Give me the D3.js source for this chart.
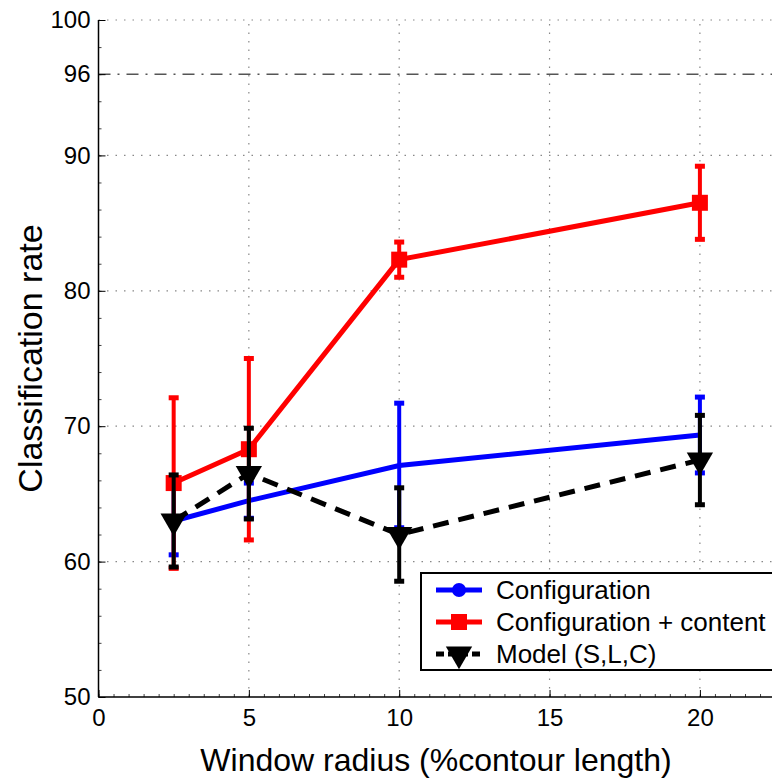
<!DOCTYPE html>
<html>
<head>
<meta charset="utf-8">
<script src="https://cdn.jsdelivr.net/npm/d3@7"></script>
<style>
  body { margin: 0; background: #fff; }
  text { font-family: "Liberation Sans", Arial, sans-serif; }
</style>
</head>
<body>
<svg id="chart"></svg>
<script>
// data
const radius = [2.5, 5, 10, 20];
const configRate = [63.0, 64.5, 67.1, 69.35];
const configErr = [2.5, 1.3, 4.6, 2.8];
const contentRate = [65.8, 68.3, 82.3, 86.5];
const contentErr = [6.3, 6.7, 1.3, 2.7];
const modelRate = [63.0, 66.5, 62.0, 67.5];
const modelErr = [3.4, 3.35, 3.45, 3.3];
const yTicks = [50, 60, 70, 80, 90, 96, 100];
const xTicks = [0, 5, 10, 15, 20];
const chanceLine = 96;
const legendLabels = ["Configuration", "Configuration + content", "Model (S,L,C)"];

// constants
const width = 772;
const height = 779;
const margin = { left: 98.5, top: 20, bottom: 82 };

const svg = d3.select('svg#chart').attr('width', width).attr('height', height);

const x = d3.scaleLinear().domain([0, 22.5]).range([margin.left, margin.left + 22.5 * 30.07]);
const y = d3.scaleLinear().domain([50, 100]).range([height - margin.bottom, margin.top]);

const x0 = x(0), y0 = y(50);

// grid lines (dotted)
const grid = svg.append("g").attr("stroke", "#888").attr("stroke-width", 1.2).attr("stroke-dasharray", "1.5,7");
grid.selectAll(".gy")
  .data(yTicks.filter(d => d !== 50 && d !== chanceLine))
  .join("line")
    .attr("x1", x0).attr("x2", width)
    .attr("y1", d => y(d)).attr("y2", d => y(d));
grid.selectAll(".gx")
  .data(xTicks.filter(d => d !== 0))
  .join("line")
    .attr("x1", d => x(d)).attr("x2", d => x(d))
    .attr("y1", y0).attr("y2", y(100));

// 96 reference line (dash-dot)
svg.append("line")
  .attr("x1", x0).attr("x2", width)
  .attr("y1", y(chanceLine)).attr("y2", y(chanceLine))
  .attr("stroke", "#555").attr("stroke-width", 1.5)
  .attr("stroke-dasharray", "12,7,2,7");

// minor ticks
svg.append("g")
  .attr("transform", `translate(0,${y0})`)
  .call(d3.axisBottom(x).tickValues(d3.range(0, 22.6, 0.5)).tickSize(-3).tickFormat(""))
  .call(g => g.select(".domain").remove())
  .call(g => g.selectAll("line").attr("stroke", "#444"));
svg.append("g")
  .attr("transform", `translate(${x0},0)`)
  .call(d3.axisLeft(y).tickValues(d3.range(50, 100.1, 2)).tickSize(-3).tickFormat(""))
  .call(g => g.select(".domain").remove())
  .call(g => g.selectAll("line").attr("stroke", "#444"));

// major ticks + labels
const xAxis = svg.append("g")
  .attr("transform", `translate(0,${y0})`)
  .call(d3.axisBottom(x).tickValues(xTicks).tickSize(-7).tickPadding(12).tickFormat(d3.format("d")));
xAxis.select(".domain").remove();
xAxis.selectAll("text").attr("font-size", 24).attr("fill", "#000")
  .attr("font-family", "Liberation Sans, Arial, sans-serif");

const yAxis = svg.append("g")
  .attr("transform", `translate(${x0},0)`)
  .call(d3.axisLeft(y).tickValues(yTicks).tickSize(-7).tickPadding(8).tickFormat(d3.format("d")));
yAxis.select(".domain").remove();
yAxis.selectAll("text").attr("font-size", 24).attr("fill", "#000")
  .attr("font-family", "Liberation Sans, Arial, sans-serif");

// spines
svg.append("line").attr("x1", x0).attr("x2", x0).attr("y1", y(100)).attr("y2", y0)
  .attr("stroke", "#000").attr("stroke-width", 1.5);
svg.append("line").attr("x1", x0).attr("x2", width).attr("y1", y0).attr("y2", y0)
  .attr("stroke", "#000").attr("stroke-width", 1.5);

// series
const series = [
  { rate: configRate, err: configErr, color: "#0000ff", dash: null, marker: "none" },
  { rate: contentRate, err: contentErr, color: "#ff0000", dash: null, marker: "square" },
  { rate: modelRate, err: modelErr, color: "#000", dash: "16,10", marker: "triangle" },
];

const line = d3.line().x(d => x(d.r)).y(d => y(d.v));
const triangle = d3.symbol().type(d3.symbolTriangle).size(300);

series.forEach(s => {
  const pts = radius.map((r, i) => ({ r: r, v: s.rate[i], e: s.err[i] }));
  const g = svg.append("g");

  g.append("path")
    .datum(pts)
    .attr("d", line)
    .attr("fill", "none")
    .attr("stroke", s.color)
    .attr("stroke-width", 5)
    .attr("stroke-dasharray", s.dash);

  // error bars
  g.selectAll(".bar")
    .data(pts)
    .join("line")
      .attr("x1", d => x(d.r)).attr("x2", d => x(d.r))
      .attr("y1", d => y(d.v - d.e)).attr("y2", d => y(d.v + d.e))
      .attr("stroke", s.color).attr("stroke-width", 4);
  [-1, 1].forEach(sign => {
    g.selectAll(".cap" + sign)
      .data(pts)
      .join("rect")
        .attr("x", d => x(d.r) - 5)
        .attr("y", d => y(d.v + sign * d.e) - 2.5)
        .attr("width", 10).attr("height", 5)
        .attr("fill", s.color);
  });

  if (s.marker === "square") {
    g.selectAll(".mk")
      .data(pts)
      .join("rect")
        .attr("x", d => x(d.r) - 8).attr("y", d => y(d.v) - 8)
        .attr("width", 16).attr("height", 16)
        .attr("fill", s.color);
  } else if (s.marker === "triangle") {
    g.selectAll(".mk")
      .data(pts)
      .join("path")
        .attr("d", triangle)
        .attr("transform", d => `translate(${x(d.r)},${y(d.v)}) rotate(180)`)
        .attr("fill", s.color);
  }
});

// legend
const lg = svg.append("g").attr("transform", "translate(421,573)");
lg.append("rect")
  .attr("x", 0).attr("y", 0).attr("width", 360).attr("height", 97)
  .attr("fill", "#fff").attr("stroke", "#000").attr("stroke-width", 2);

legendLabels.forEach((label, i) => {
  const s = series[i];
  const cy = 17 + i * 32;
  lg.append("line")
    .attr("x1", 15).attr("x2", 61).attr("y1", cy).attr("y2", cy)
    .attr("stroke", s.color).attr("stroke-width", 5)
    .attr("stroke-dasharray", s.dash ? "8,4" : null);
  if (i === 0) {
    lg.append("circle").attr("cx", 38).attr("cy", cy).attr("r", 7).attr("fill", s.color);
  } else if (i === 1) {
    lg.append("rect").attr("x", 30).attr("y", cy - 8).attr("width", 16).attr("height", 16).attr("fill", s.color);
  } else {
    lg.append("path").attr("d", triangle)
      .attr("transform", `translate(38,${cy}) rotate(180)`).attr("fill", s.color);
  }
  lg.append("text")
    .attr("x", 75).attr("y", cy)
    .attr("dy", "0.35em")
    .attr("font-size", 26)
    .text(label);
});

// axis titles
svg.append("text")
  .attr("x", 436)
  .attr("y", 771)
  .attr("text-anchor", "middle")
  .attr("font-size", 32)
  .text("Window radius (%contour length)");

svg.append("text")
  .attr("transform", `translate(42,${(y(100) + y0) / 2}) rotate(-90)`)
  .attr("text-anchor", "middle")
  .attr("font-size", 34)
  .text("Classification rate");
</script>
</body>
</html>
